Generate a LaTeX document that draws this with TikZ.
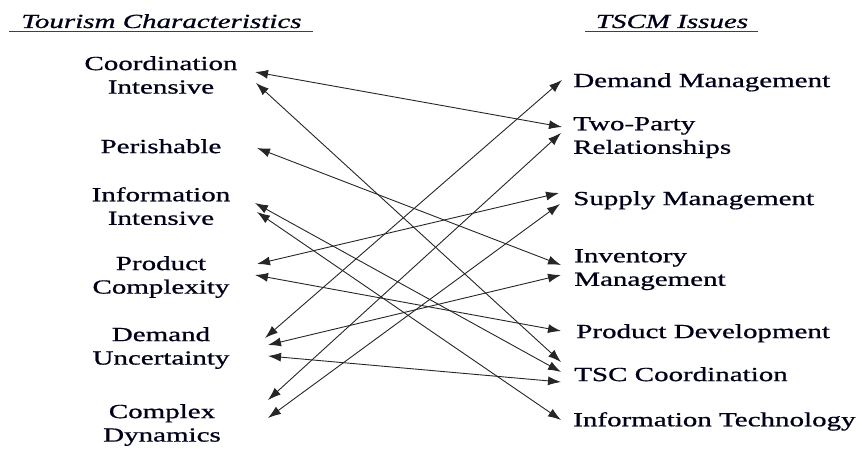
\documentclass[tikz,border=0pt]{standalone}
\usepackage{fontspec}
\setmainfont{Liberation Serif}
\newfontfamily\lblfont{Liberation Serif}[FakeBold=0.7]
\usetikzlibrary{arrows.meta}
\begin{document}
\begin{tikzpicture}[x=1pt,y=-1pt,
  lab/.style={inner sep=0pt, font=\lblfont\fontsize{20}{23.5}\selectfont, xscale=1.45, text=black!90!blue},
  lft/.style={lab, align=center, anchor=north},
  rgt/.style={lab, align=left, anchor=north west},
  hd/.style={lab, font=\lblfont\fontsize{20}{24}\selectfont\itshape, anchor=base},
  uline/.style={draw=black!75, line width=1pt},
  link/.style={draw=black!85, line width=0.9pt, {Latex[length=13pt,width=9pt]}-{Latex[length=13pt,width=9pt]}}]
\useasboundingbox (0,0) rectangle (862,449);
% headers
\node[hd] (h1) at (161.5,28) {Tourism Characteristics};
\node[hd] (h2) at (672,28) {TSCM Issues};
\draw[uline] (9,31.5) -- (313,31.5);
\draw[uline] (585,32) -- (758,32);
% left labels
\node[lft] (CI) at (161,56) {Coordination\\Intensive};
\node[lft] (PE) at (161,139) {Perishable};
\node[lft] (II) at (161,187) {Information\\Intensive};
\node[lft] (PC) at (161,256) {Product\\Complexity};
\node[lft] (DU) at (161,327) {Demand\\Uncertainty};
\node[lft] (CD) at (162,404) {Complex\\Dynamics};
% right labels
\node[rgt] (DM) at (573,73) {Demand Management};
\node[rgt] (TP) at (573,117) {Two-Party\\Relationships};
\node[rgt] (SM) at (573,191) {Supply Management};
\node[rgt] (IM) at (574,249) {Inventory\\Management};
\node[rgt] (PD) at (576,324) {Product Development};
\node[rgt] (TS) at (574,367) {TSC Coordination};
\node[rgt] (IT) at (573,412) {Information Technology};
% arrow end points
\coordinate (ci1) at (255,72);
\coordinate (ci2) at (256,83);
\coordinate (pe) at (257,148);
\coordinate (ii1) at (255,203);
\coordinate (ii2) at (257,212);
\coordinate (pc1) at (257,264);
\coordinate (pc2) at (255,275);
\coordinate (du1) at (265,338);
\coordinate (du2) at (268,345);
\coordinate (du3) at (268,356);
\coordinate (cd1) at (268,400);
\coordinate (cd2) at (268,418);
\coordinate (dm) at (562,80);
\coordinate (tp1) at (562,127);
\coordinate (tp2) at (561,133);
\coordinate (sm1) at (559,193);
\coordinate (sm2) at (560,204);
\coordinate (im1) at (561,265);
\coordinate (im2) at (561,275);
\coordinate (pd) at (561,331);
\coordinate (ts1) at (561,362);
\coordinate (ts2) at (561,372);
\coordinate (ts3) at (561,382);
\coordinate (it) at (561,420);
% links
\draw[link] (ci1) -- (tp1);
\draw[link] (ci2) -- (ts1);
\draw[link] (pe) -- (im1);
\draw[link] (ii1) -- (ts2);
\draw[link] (ii2) -- (it);
\draw[link] (pc1) -- (sm1);
\draw[link] (pc2) -- (pd);
\draw[link] (du1) -- (dm);
\draw[link] (du2) -- (im2);
\draw[link] (du3) -- (ts3);
\draw[link] (cd1) -- (tp2);
\draw[link] (cd2) -- (sm2);
\end{tikzpicture}
\end{document}
